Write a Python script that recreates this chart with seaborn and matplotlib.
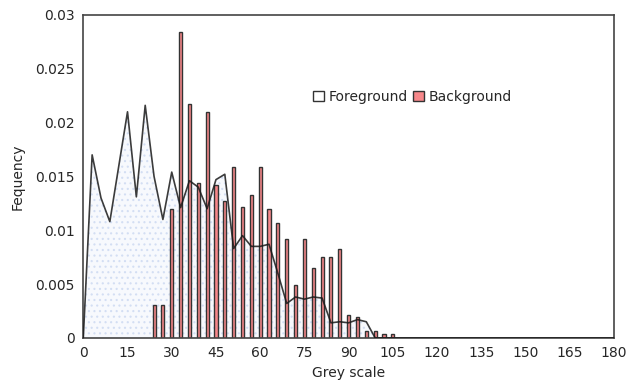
import matplotlib
matplotlib.use("Agg")
import matplotlib.pyplot as plt
import seaborn as sns
import numpy as np
from matplotlib.patches import Patch

# ---- data ----
fg_x = [0, 3, 6, 9, 12, 15, 18, 21, 24, 27, 30, 33, 36, 39, 42, 45, 48, 51, 54, 57,
        60, 63, 66, 69, 72, 75, 78, 81, 84, 87, 90, 93, 96, 99, 102, 105, 180]
fg_y = [0.0, 0.0170, 0.0130, 0.0108, 0.0159, 0.0210, 0.0131, 0.0216, 0.0150, 0.0110,
        0.0154, 0.0121, 0.0146, 0.0140, 0.0120, 0.0147, 0.0152, 0.0083, 0.0095, 0.0085,
        0.0085, 0.0087, 0.0060, 0.0032, 0.0038, 0.0036, 0.0038, 0.0037, 0.0014, 0.0015,
        0.0014, 0.0017, 0.0015, 0.0, 0.0, 0.0, 0.0]

bg_x = [24, 27, 30, 33, 36, 39, 42, 45, 48, 51, 54, 57, 60, 63, 66, 69, 72, 75, 78, 81,
        84, 87, 90, 93, 96, 99, 102, 105]
bg_y = [0.0031, 0.0031, 0.0120, 0.0284, 0.0217, 0.0144, 0.0210, 0.0142, 0.0127, 0.0159,
        0.0122, 0.0133, 0.0159, 0.0120, 0.0107, 0.0092, 0.0049, 0.0092, 0.0065, 0.0075,
        0.0075, 0.0083, 0.0021, 0.0019, 0.0006, 0.0006, 0.0004, 0.0004]

x_ticks = [0, 15, 30, 45, 60, 75, 90, 105, 120, 135, 150, 165, 180]
y_ticks = [0, 0.005, 0.01, 0.015, 0.02, 0.025, 0.03]
y_tick_labels = ["0", "0.005", "0.01", "0.015", "0.02", "0.025", "0.03"]
series_names = ["Foreground", "Background"]

# ---- style ----
sns.set_style("white")
plt.rcParams["font.family"] = ["DejaVu Sans"]
plt.rcParams["hatch.linewidth"] = 0.8
text_color = "#262626"
bar_color = "#F6878A"
edge_color = "#333333"

fig = plt.figure(figsize=(6.31, 3.92), dpi=100)
ax = fig.add_axes([0.132, 0.138, 0.841, 0.824])

# foreground area (dotted light blue fill)
ax.fill_between(fg_x, fg_y, 0, facecolor="#f7f9fd", edgecolor="#d3def3",
                hatch="...", linewidth=0, zorder=1)

# background bars
sns.barplot(x=bg_x, y=bg_y, native_scale=True, width=0.35, color=bar_color,
            saturation=1, edgecolor=edge_color, linewidth=1.0, errorbar=None,
            ax=ax, zorder=2)

# foreground line
sns.lineplot(x=fg_x, y=fg_y, color="#1a1a1a", linewidth=1.2, alpha=0.85,
             ax=ax, zorder=3)

ax.set_xlim(0, 180)
ax.set_ylim(0, 0.03)
ax.set_xticks(x_ticks)
ax.set_xticklabels([str(t) for t in x_ticks])
ax.set_yticks(y_ticks)
ax.set_yticklabels(y_tick_labels)
ax.tick_params(length=0, labelsize=10, colors=text_color, pad=6)
ax.set_xlabel("Grey scale", fontsize=10, color=text_color, labelpad=4)
ax.set_ylabel("Fequency", fontsize=10, color=text_color, labelpad=8)

for s in ax.spines.values():
    s.set_visible(True)
    s.set_color("#444444")
    s.set_linewidth(1.2)

handles = [Patch(facecolor="white", edgecolor="#333333", linewidth=1.0),
           Patch(facecolor=bar_color, edgecolor="#333333", linewidth=1.0)]
ax.legend(handles, series_names, ncol=2, frameon=False, loc="center",
          bbox_to_anchor=(0.62, 0.746), fontsize=10, handlelength=0.8,
          handleheight=0.8, handletextpad=0.3, columnspacing=0.4,
          labelcolor=text_color)

fig.savefig("out.png", dpi=100)
